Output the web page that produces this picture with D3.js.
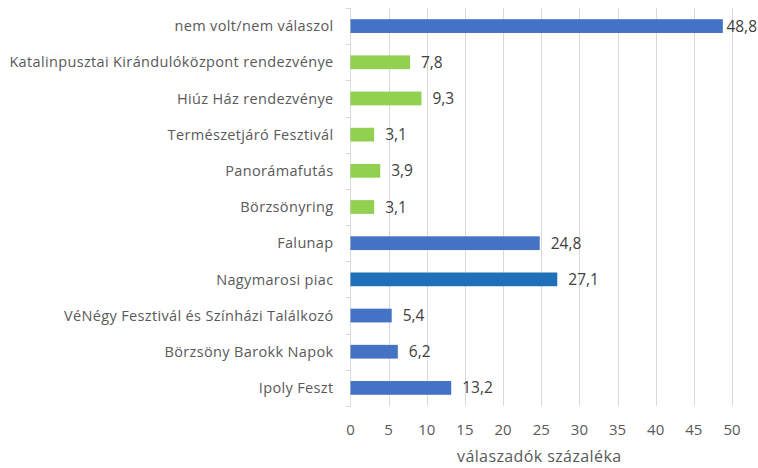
<!DOCTYPE html>
<html><head><meta charset="utf-8">
<script src="https://cdn.jsdelivr.net/npm/d3@7"></script>
<style>body{margin:0;background:#fff;} text{font-family:"Open Sans",sans-serif;}</style>
</head><body><svg id="c" width="758" height="468"></svg>
<script>
const categories = ["nem volt/nem válaszol","Katalinpusztai Kirándulóközpont rendezvénye","Hiúz Ház rendezvénye","Természetjáró Fesztivál","Panorámafutás","Börzsönyring","Falunap","Nagymarosi piac","VéNégy Fesztivál és Színházi Találkozó","Börzsöny Barokk Napok","Ipoly Feszt"];
const values = [48.8,7.8,9.3,3.1,3.9,3.1,24.8,27.1,5.4,6.2,13.2];
const groups = ["other","green","green","green","green","green","blue","dark","blue","blue","blue"];
const xTicks = [0,5,10,15,20,25,30,35,40,45,50];
const axisTitle = "válaszadók százaléka";

const colors = {other:"#4472C4", blue:"#4472C4", green:"#92D050", dark:"#1F70B8"};
const svg = d3.select("#c");
const pL = 350.5, pR = 732, pT = 8, pB = 406;
const x = d3.scaleLinear().domain([0,50]).range([pL,pR]);
const y = d3.scaleBand().domain(categories).range([pT,pB]).paddingInner(0.62).paddingOuter(0.31);

svg.append("g").selectAll("line").data(xTicks.slice(1)).join("line")
  .attr("x1",d=>Math.round(x(d))+0.5).attr("x2",d=>Math.round(x(d))+0.5)
  .attr("y1",pT).attr("y2",pB).attr("stroke","#d9d9d9").attr("stroke-width",1);

const step = (pB-pT)/categories.length;
svg.append("line").attr("x1",pL).attr("x2",pL).attr("y1",pT).attr("y2",pB).attr("stroke","#d9d9d9");
svg.append("g").selectAll("line").data(d3.range(categories.length+1)).join("line")
  .attr("x1",pL-5).attr("x2",pL).attr("y1",i=>Math.round(pT+i*step)+0.5).attr("y2",i=>Math.round(pT+i*step)+0.5)
  .attr("stroke","#d9d9d9");

svg.append("g").selectAll("rect").data(categories).join("rect")
  .attr("x",pL).attr("y",d=>y(d)).attr("height",y.bandwidth())
  .attr("width",(d,i)=>x(values[i])-pL).attr("fill",(d,i)=>colors[groups[i]]);

const fmt = v => d3.format(".1f")(v).replace(".",",");
svg.append("g").selectAll("text").data(categories).join("text")
  .attr("x",(d,i)=>x(values[i])+11).attr("y",d=>y(d)+y.bandwidth()/2).attr("dy","0.36em")
  .attr("font-size",15.5).attr("fill","#404040").text((d,i)=>fmt(values[i]))
  .each(function(){
    const w = this.getComputedTextLength();
    const x0 = +this.getAttribute("x");
    if (x0 + w > 757) this.setAttribute("x", 757 - w);
  });

svg.append("g").selectAll("text").data(categories).join("text")
  .attr("x",pL-17).attr("y",d=>y(d)+y.bandwidth()/2).attr("dy","0.36em")
  .attr("text-anchor","end").attr("font-size",14.5).attr("letter-spacing","0.35px")
  .attr("fill","#595959").text(d=>d);

svg.append("g").selectAll("text").data(xTicks).join("text")
  .attr("x",d=>x(d)).attr("y",435).attr("text-anchor","middle")
  .attr("font-size",15).attr("fill","#595959").text(d=>d);

svg.append("text").attr("x",(pL+pR)/2-2).attr("y",462).attr("text-anchor","middle")
  .attr("font-size",16).attr("letter-spacing","0.4px").attr("fill","#595959").text(axisTitle);
</script></body></html>
